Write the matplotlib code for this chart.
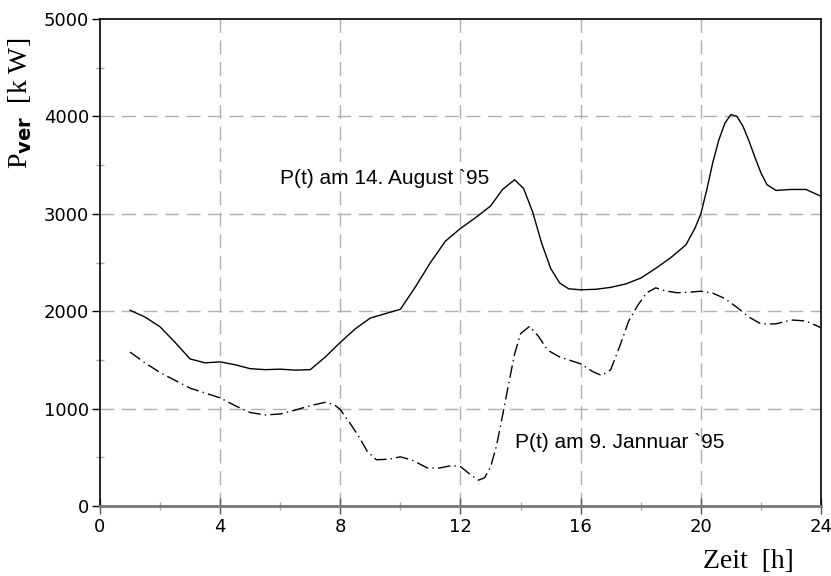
import matplotlib
matplotlib.use("Agg")
import matplotlib.pyplot as plt
from matplotlib.ticker import MultipleLocator

plt.rcParams["mathtext.fontset"] = "custom"
plt.rcParams["mathtext.rm"] = "Liberation Serif"
plt.rcParams["mathtext.bf"] = "DejaVu Sans:bold"

# August 14, 1995
aug_t = [1.0, 1.5, 2.0, 2.5, 3.0, 3.5, 4.0, 4.5, 5.0, 5.5, 6.0, 6.5, 7.0, 7.5, 8.0, 8.5,
         9.0, 9.5, 10.0, 10.5, 11.0, 11.5, 12.0, 12.5, 13.0, 13.4, 13.8, 14.1, 14.4, 14.7,
         15.0, 15.3, 15.6, 16.0, 16.5, 17.0, 17.5, 18.0, 18.5, 19.0, 19.5, 19.8, 20.0, 20.2,
         20.4, 20.6, 20.8, 21.0, 21.2, 21.4, 21.6, 21.8, 22.0, 22.2, 22.5, 23.0, 23.5, 24.0]
aug_p = [2010, 1940, 1840, 1680, 1510, 1470, 1480, 1450, 1410, 1400, 1405, 1395, 1400, 1530,
         1680, 1820, 1930, 1975, 2020, 2250, 2500, 2720, 2850, 2960, 3080, 3250, 3350, 3260,
         3020, 2700, 2440, 2290, 2230, 2220, 2225, 2245, 2280, 2340, 2440, 2550, 2680, 2850,
         3000, 3250, 3530, 3760, 3930, 4020, 4000, 3900, 3750, 3580, 3420, 3300, 3240, 3250,
         3250, 3180]

# January 9, 1995
jan_t = [1.0, 1.5, 2.0, 2.5, 3.0, 3.5, 4.0, 4.5, 5.0, 5.5, 6.0, 6.5, 7.0, 7.5, 7.8, 8.0,
         8.3, 8.6, 8.9, 9.2, 9.6, 10.0, 10.4, 10.9, 11.3, 11.7, 12.0, 12.3, 12.6, 12.8, 13.0,
         13.2, 13.4, 13.6, 13.8, 14.0, 14.3, 14.6, 14.9, 15.3, 15.7, 16.0, 16.4, 16.7, 17.0,
         17.3, 17.6, 17.9, 18.2, 18.5, 18.8, 19.2, 19.6, 20.0, 20.4, 20.8, 21.2, 21.6, 22.0,
         22.5, 23.0, 23.5, 24.0]
jan_p = [1580, 1470, 1370, 1290, 1210, 1160, 1110, 1030, 960, 935, 945, 985, 1030, 1065,
         1040, 990, 860, 720, 560, 475, 480, 505, 470, 390, 390, 415, 405, 330, 265, 290, 400,
         620, 930, 1250, 1560, 1770, 1845, 1740, 1600, 1530, 1490, 1460, 1380, 1340, 1400,
         1640, 1900, 2060, 2190, 2240, 2210, 2190, 2195, 2205, 2185, 2130, 2040, 1940, 1870,
         1870, 1910, 1900, 1830]

x_ticks = [0, 4, 8, 12, 16, 20, 24]
y_ticks = [0, 1000, 2000, 3000, 4000, 5000]
label_aug = "P(t) am 14. August `95"
label_jan = "P(t) am 9. Jannuar `95"

fig = plt.figure(figsize=(8.31, 5.76), dpi=100)
ax = fig.add_axes([0.1203, 0.1215, 0.988 - 0.1203, 0.967 - 0.1215])

grid_col = "#b0b0b0"
for x in x_ticks[1:-1]:
    ax.axvline(x, color=grid_col, lw=1.0, dashes=(10, 5.5), zorder=1)
for y in y_ticks[1:-1]:
    ax.axhline(y, color=grid_col, lw=1.0, dashes=(10, 5.5), zorder=1)

ax.plot(aug_t, aug_p, color="black", lw=1.0, zorder=3)
ax.plot(jan_t, jan_p, color="black", lw=1.0, dashes=(9, 3, 1, 3), zorder=3)

ax.set_xlim(0, 24)
ax.set_ylim(0, 5000)
ax.set_xticks(x_ticks)
ax.set_yticks(y_ticks)
ax.xaxis.set_minor_locator(MultipleLocator(2))
ax.yaxis.set_minor_locator(MultipleLocator(500))

for s in ["left", "top", "right"]:
    ax.spines[s].set_color("black")
    ax.spines[s].set_linewidth(1.2)
ax.spines["bottom"].set_color("#777777")
ax.spines["bottom"].set_linewidth(2.0)

ax.tick_params(axis="x", which="major", direction="inout", length=11.5, width=1.0,
               color="#555555", pad=3)
ax.tick_params(axis="x", which="minor", direction="inout", length=6, width=1.0,
               color="#aaaaaa")
ax.tick_params(axis="y", which="major", direction="out", length=5.8, width=1.0,
               color="black", pad=2)
ax.tick_params(axis="y", which="minor", direction="inout", length=6, width=1.0,
               color="#aaaaaa")
for lab in ax.get_xticklabels() + ax.get_yticklabels():
    lab.set_fontfamily("DejaVu Sans")
    lab.set_fontsize(13)

ax.text(6.0, 3302, label_aug, family="Liberation Sans", fontsize=15,
        ha="left", va="baseline")
ax.text(13.83, 597, label_jan, family="Liberation Sans", fontsize=15,
        ha="left", va="baseline")

fig.text(703 / 831, 8 / 576, "Zeit  [h]", family="Liberation Serif", fontsize=20,
         ha="left", va="baseline")
fig.text(0.024, 1 - 103 / 576, r"$\mathrm{P}_{\mathbf{ver}}$  [k W]",
         family="Liberation Serif", fontsize=20, rotation=90, ha="center", va="center")

fig.savefig("out.png", dpi=100)
